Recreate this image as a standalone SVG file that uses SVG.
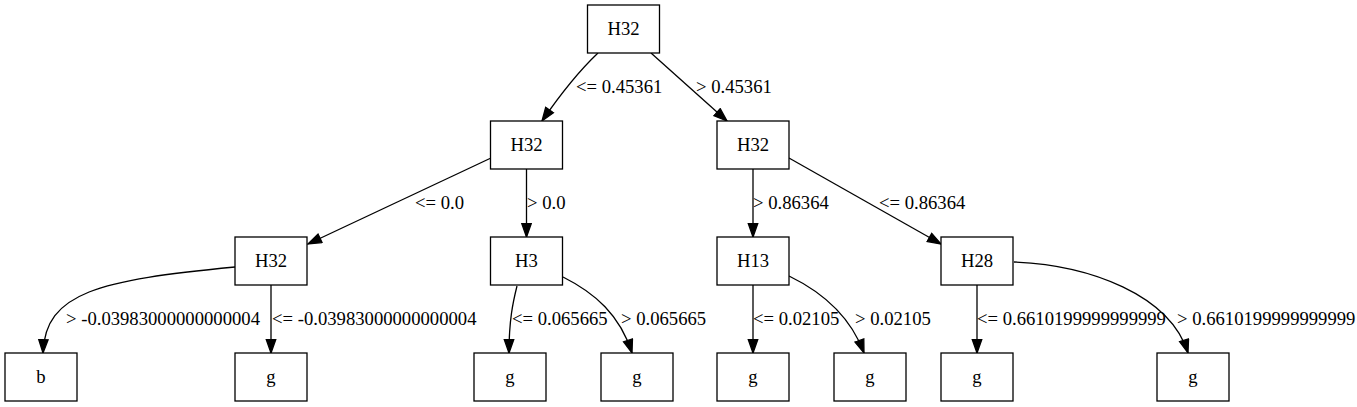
<svg xmlns="http://www.w3.org/2000/svg" width="1357" height="407" viewBox="0 0 1357 407">
<style>
.n rect{fill:#fff;stroke:#000;stroke-width:1.3}
.t{font-family:'Liberation Serif','DejaVu Serif',serif;font-size:18.67px;fill:#000}
.n text{text-anchor:middle}
.e path{fill:none;stroke:#000;stroke-width:1.3;marker-end:url(#ah)}
</style>
<defs>
<marker id="ah" markerUnits="userSpaceOnUse" markerWidth="16" markerHeight="12" refX="13.3" refY="4.7" orient="auto" viewBox="-1 -1 16 12">
<path d="M0,0 L13.3,4.7 L0,9.4 z" fill="#000" stroke="#000" stroke-width="1.3"/>
</marker>
</defs>
<rect width="1357" height="407" fill="#fff"/>
<g id="edges" class="e">
<path d="M598,53 C580,70 562,92 542,121"/>
<path d="M651,53 L727,121"/>
<path d="M491,158 L308,244"/>
<path d="M526.5,169 L526.5,237"/>
<path d="M753,169 L753,237"/>
<path d="M789,158 L941,244"/>
<path d="M235,267 C100,280 45,292 43,353"/>
<path d="M271,285 L271,353"/>
<path d="M517,286 C513,302 509,320 509,353"/>
<path d="M563,277 C595,293 620,315 632,353"/>
<path d="M753,285 L753,353"/>
<path d="M789,276 C822,292 850,315 864,353"/>
<path d="M977,285 L977,353"/>
<path d="M1014,262 C1090,265 1170,295 1188,353"/>
</g>
<g id="edge-labels" class="t" font-family="Liberation Serif, DejaVu Serif, serif">
<text x="576" y="92.5">&lt;= 0.45361</text>
<text x="696" y="92.5">&gt; 0.45361</text>
<text x="415" y="208.5">&lt;= 0.0</text>
<text x="527" y="208.5">&gt; 0.0</text>
<text x="753" y="208.5">&gt; 0.86364</text>
<text x="879" y="208.5">&lt;= 0.86364</text>
<text x="66" y="324.5">&gt; -0.03983000000000004</text>
<text x="272" y="324.5">&lt;= -0.03983000000000004</text>
<text x="512" y="324.5">&lt;= 0.065665</text>
<text x="621" y="324.5">&gt; 0.065665</text>
<text x="753" y="324.5">&lt;= 0.02105</text>
<text x="855" y="324.5">&gt; 0.02105</text>
<text x="977" y="324.5">&lt;= 0.6610199999999999</text>
<text x="1177" y="324.5">&gt; 0.6610199999999999</text>
</g>
<g id="n0" class="n t"><rect x="587.5" y="5" width="72" height="48"/><text x="623.5" y="34.5">H32</text></g>
<g id="n1" class="n t"><rect x="490.5" y="121" width="72" height="48"/><text x="526.5" y="150.5">H32</text></g>
<g id="n2" class="n t"><rect x="717" y="121" width="72" height="48"/><text x="753" y="150.5">H32</text></g>
<g id="n3" class="n t"><rect x="235" y="237" width="72" height="48"/><text x="271" y="266.5">H32</text></g>
<g id="n4" class="n t"><rect x="490.5" y="237" width="72" height="48"/><text x="526.5" y="266.5">H3</text></g>
<g id="n5" class="n t"><rect x="717" y="237" width="72" height="48"/><text x="753" y="266.5">H13</text></g>
<g id="n6" class="n t"><rect x="941" y="237" width="72" height="48"/><text x="977" y="266.5">H28</text></g>
<g id="n7" class="n t"><rect x="5" y="353" width="72" height="48"/><text x="41" y="382.5">b</text></g>
<g id="n8" class="n t"><rect x="235" y="353" width="72" height="48"/><text x="271" y="382.5">g</text></g>
<g id="n9" class="n t"><rect x="474" y="353" width="72" height="48"/><text x="510" y="382.5">g</text></g>
<g id="n10" class="n t"><rect x="601" y="353" width="72" height="48"/><text x="637" y="382.5">g</text></g>
<g id="n11" class="n t"><rect x="717" y="353" width="72" height="48"/><text x="753" y="382.5">g</text></g>
<g id="n12" class="n t"><rect x="834" y="353" width="72" height="48"/><text x="870" y="382.5">g</text></g>
<g id="n13" class="n t"><rect x="941" y="353" width="72" height="48"/><text x="977" y="382.5">g</text></g>
<g id="n14" class="n t"><rect x="1157" y="353" width="72" height="48"/><text x="1193" y="382.5">g</text></g>
</svg>
